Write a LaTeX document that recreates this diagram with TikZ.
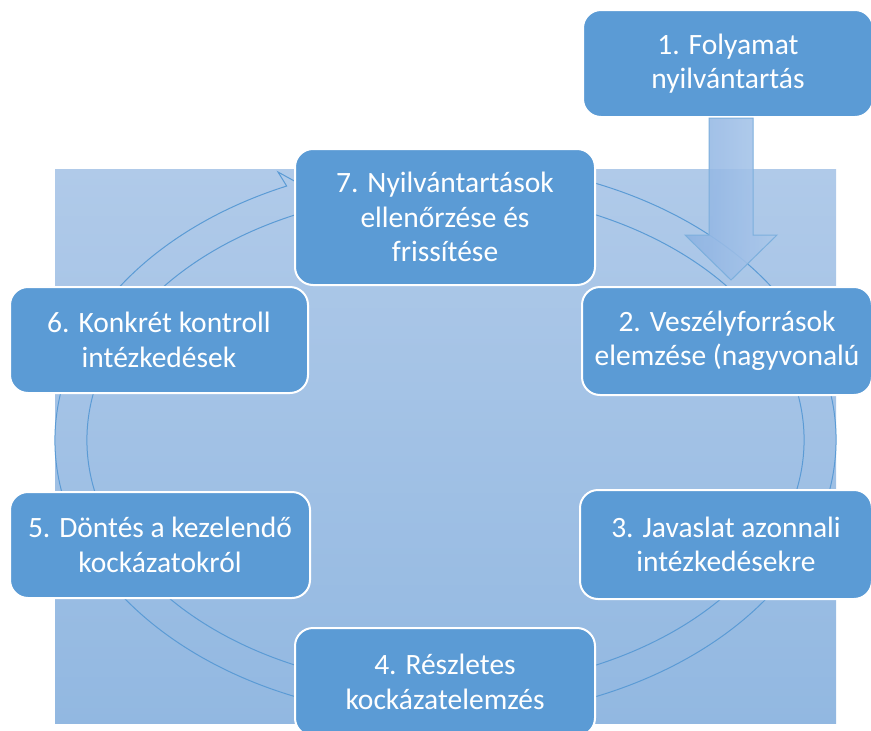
\documentclass[tikz,border=0pt]{standalone}
\usepackage{fontspec}
\setmainfont{Carlito}
\usetikzlibrary{shapes,positioning,calc}

\definecolor{boxblue}{RGB}{91,155,213}
\definecolor{bgtop}{RGB}{176,202,233}
\definecolor{bgbottom}{RGB}{146,184,225}
\definecolor{arrowleft}{RGB}{140,178,226}
\definecolor{arrowright}{RGB}{172,200,234}

\begin{document}
\begin{tikzpicture}
            [
            x=1pt, y=-1pt,
            stepbox/.style={rectangle, rounded corners=18pt, draw=white,
                line width=2pt, fill=boxblue, text=white, align=center,
                minimum width=300pt, minimum height=108pt, inner sep=0pt,
                font=\fontsize{29.5}{34.5}\selectfont},
            ring line/.style={draw=boxblue, line width=1pt},
            block arrow/.style={draw=boxblue!80, line width=1pt,
                left color=arrowleft, right color=arrowright, fill opacity=0.88}
            ]
            \useasboundingbox (0,0) rectangle (871,731);
            \clip (0,0) rectangle (871,731);

            % background panel
            \path [top color=bgtop, bottom color=bgbottom] (55,169) rectangle (836,723);

            % cycle ring
            \coordinate (c) at (445.5,440);
            \draw [ring line] ($(c)+(-80:390.5 and 278)$)
                arc [start angle=-80, end angle=246, x radius=390.5, y radius=278]
                -- (278,172) -- (336,204) -- (312,229)
                -- ($(c)+(246:358.5 and 248)$)
                arc [start angle=246, end angle=-80, x radius=358.5, y radius=248]
                -- cycle;

            \node (n1) [stepbox, minimum width=290pt, minimum height=107pt] at (728,63.5)
                {1. Folyamat\\nyilvántartás};

            % block arrow from 1 down to 2
            \path [block arrow] ($(n1.south)+(-19,0)$) -- ++(0,117) -- ++(-24,0)
                -- ($(n1.south)+(3,162)$) -- ($(n1.south)+(49,117)$)
                -- ++(-24,0) -- ++(0,-117) -- cycle;

            \node (n7) [stepbox, minimum height=136pt] at (445,217)
                {7. Nyilvántartások\\ellenőrzése és\\frissítése};
            \node (n6) [stepbox, minimum width=298pt, minimum height=106pt] at (159,340)
                {6. Konkrét kontroll\\intézkedések};
            \node (n2) [stepbox, minimum width=290pt] at (727,341)
                {2. Veszélyforrások\\elemzése (nagyvonalú};
            \node (n5) [stepbox, minimum height=106pt] at (160,545)
                {5. Döntés a kezelendő\\kockázatokról};
            \node (n3) [stepbox, minimum width=292pt, minimum height=109pt] at (726,544.5)
                {3. Javaslat azonnali\\intézkedésekre};
            \node (n4) [stepbox] at (445,682)
                {4. Részletes\\kockázatelemzés};
        \end{tikzpicture}
\end{document}
